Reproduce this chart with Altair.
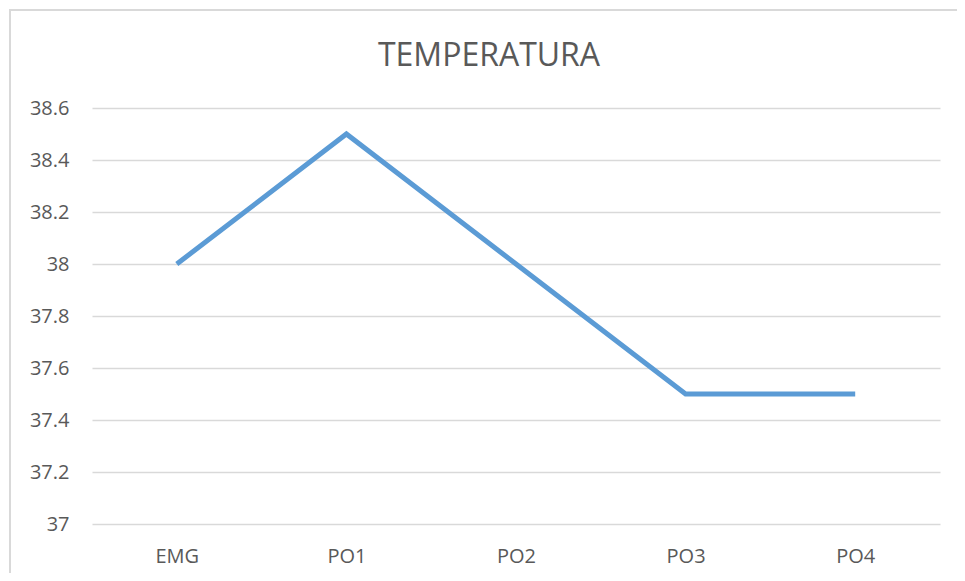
import altair as alt
import pandas as pd

categories = ["EMG", "PO1", "PO2", "PO3", "PO4"]
values = [38.0, 38.5, 38.0, 37.5, 37.5]
y_ticks = [37.0, 37.2, 37.4, 37.6, 37.8, 38.0, 38.2, 38.4, 38.6]
title_text = "TEMPERATURA"

df = pd.DataFrame({"cat": categories, "temp": values})

FONT = "Open Sans"
GRAY = "#595959"
GRID = "#d9d9d9"

base = alt.Chart(df)

line = base.mark_line(color="#5B9BD5", strokeWidth=5, strokeJoin="miter").encode(
    x=alt.X("cat:O", sort=categories, title=None,
            axis=alt.Axis(labelAngle=0, domain=False, ticks=False, grid=False, labelPadding=22,
                          labelFont=FONT, labelFontSize=20, labelColor=GRAY)),
    y=alt.Y("temp:Q", title=None,
            scale=alt.Scale(domain=[37, 38.6], nice=False, zero=False),
            axis=alt.Axis(values=y_ticks, domain=False, ticks=False, labelPadding=23,
                          gridColor=GRID, gridWidth=1.3,
                          labelFont=FONT, labelFontSize=20, labelColor=GRAY,
                          labelExpr="datum.value == 38 ? '38' : datum.value == 37 ? '37' : format(datum.value, '.1f')")),
)

title = alt.Chart(pd.DataFrame({"t": [title_text]})).mark_text(
    font=FONT, fontSize=32, color=GRAY, baseline="alphabetic", align="center"
).encode(text="t:N", x=alt.value(397), y=alt.value(-42))

border_left = alt.Chart(pd.DataFrame({"a": [0]})).mark_rule(color=GRID, strokeWidth=2).encode(
    x=alt.value(-82), y=alt.value(-98), y2=alt.value(480))
border_top = alt.Chart(pd.DataFrame({"a": [0]})).mark_rule(color=GRID, strokeWidth=2).encode(
    x=alt.value(-83), x2=alt.value(900), y=alt.value(-98))

chart = alt.layer(border_left, border_top, line, title).properties(
    width=848, height=416,
    autosize=alt.AutoSizeParams(type="none"),
    padding={"left": 84, "top": 100, "right": 17, "bottom": 49},
    view=alt.ViewBackground(stroke="transparent", strokeWidth=0),
).configure_view(strokeWidth=0, stroke="transparent").configure(background="white")

chart.save("out.html", embed_options={"renderer": "svg", "actions": False})
